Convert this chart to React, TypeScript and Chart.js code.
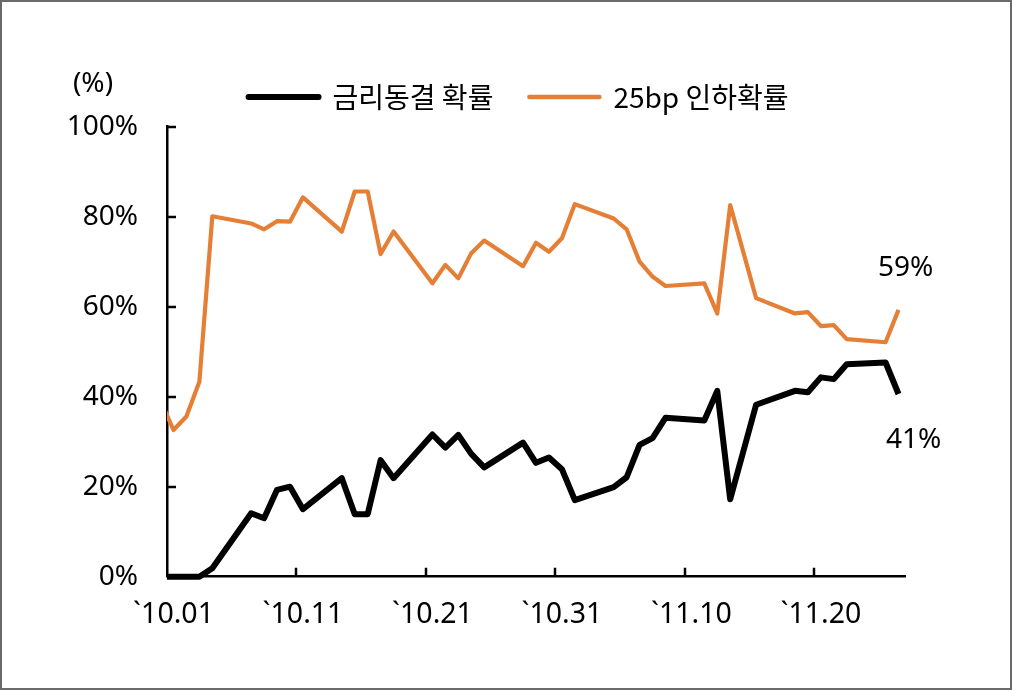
import React, { useEffect, useRef } from 'react';
import { Chart, registerables } from 'chart.js';

Chart.register(...registerables);

// ---- data ----
const DATES = [
  '2024-09-30', '2024-10-01', '2024-10-02', '2024-10-03', '2024-10-04',
  '2024-10-07', '2024-10-08', '2024-10-09', '2024-10-10', '2024-10-11',
  '2024-10-14', '2024-10-15', '2024-10-16', '2024-10-17', '2024-10-18',
  '2024-10-21', '2024-10-22', '2024-10-23', '2024-10-24', '2024-10-25',
  '2024-10-28', '2024-10-29', '2024-10-30', '2024-10-31', '2024-11-01',
  '2024-11-04', '2024-11-05', '2024-11-06', '2024-11-07', '2024-11-08',
  '2024-11-11', '2024-11-12', '2024-11-13',
  '2024-11-15',
  '2024-11-18', '2024-11-19', '2024-11-20', '2024-11-21', '2024-11-22',
  '2024-11-25', '2024-11-26',
];

// 금리동결 확률 (%)
const HOLD = [
  0, 0, 0, 0, 1.9,
  14.1, 13.0, 19.3, 20.0, 15.0,
  21.9, 13.9, 13.9, 25.9, 21.9,
  31.6, 28.7, 31.5, 27.3, 24.3,
  29.8, 25.3, 26.5, 23.9, 17.0,
  19.9, 22.1, 29.3, 30.8, 35.3,
  34.7, 41.3, 17.2,
  38.2,
  41.3, 41.0, 44.3, 43.9, 47.2,
  47.6, 40.6,
];

// 25bp 인하확률 (%)
const CUT25 = [
  39.2, 32.6, 35.6, 43.3, 80.1,
  78.5, 77.2, 79.0, 78.9, 84.3,
  76.7, 85.6, 85.6, 71.7, 76.7,
  65.2, 69.3, 66.3, 71.9, 74.7,
  69.0, 74.2, 72.2, 75.2, 82.8,
  79.6, 77.2, 70.0, 66.7, 64.6,
  65.2, 58.5, 82.6,
  61.9,
  58.5, 58.8, 55.7, 55.9, 52.8,
  52.1, 59.3,
];

const SERIES_NAMES = ['금리동결 확률', '25bp 인하확률'];
const SERIES_COLORS = ['#000000', '#E57F36'];
const AXIS_START = '2024-10-01';
const AXIS_DAYS = 57;
const X_TICK_DAYS = [0, 10, 20, 30, 40, 50];
const X_TICK_LABELS = ['`10.01', '`10.11', '`10.21', '`10.31', '`11.10', '`11.20'];
const Y_TICKS = [0, 20, 40, 60, 80, 100];
const UNIT_LABEL = '(%)';
const END_LABELS = ['41%', '59%'];

const FONT_KR = '"Noto Sans CJK KR", "Noto Sans", sans-serif';
const FONT_NUM = '"Noto Sans", "Noto Sans CJK KR", sans-serif';

const dayOffset = (d: string) =>
  (Date.parse(d + 'T00:00:00Z') - Date.parse(AXIS_START + 'T00:00:00Z')) / 86400000;

export default function App() {
  const ref = useRef<HTMLCanvasElement | null>(null);

  useEffect(() => {
    if (!ref.current) return;
    const xs = DATES.map((d) => dayOffset(d) + 0.5);
    const holdPts = xs.map((x, i) => ({ x, y: HOLD[i] }));
    const cutPts = xs.map((x, i) => ({ x, y: CUT25[i] }));

    const decor = {
      id: 'decor',
      afterDatasetsDraw(chart: any) {
        const { ctx, chartArea, scales } = chart;
        const xS = scales.x;
        const yS = scales.y;
        ctx.save();
        ctx.strokeStyle = '#000';
        ctx.lineWidth = 2.5;
        ctx.beginPath();
        Y_TICKS.forEach((v) => {
          const y = Math.round(yS.getPixelForValue(v));
          ctx.moveTo(chartArea.left, y);
          ctx.lineTo(chartArea.left + 9, y);
        });
        X_TICK_DAYS.forEach((v) => {
          if (v === 0) return;
          const x = Math.round(xS.getPixelForValue(v));
          ctx.moveTo(x, chartArea.bottom);
          ctx.lineTo(x, chartArea.bottom - 9);
        });
        ctx.stroke();

        ctx.fillStyle = '#000';
        ctx.font = `28px ${FONT_NUM}`;
        ctx.textAlign = 'center';
        ctx.textBaseline = 'middle';
        ctx.fillText(UNIT_LABEL, chartArea.left - 74, chartArea.top - 43);

        const holdMeta = chart.getDatasetMeta(0);
        const cutMeta = chart.getDatasetMeta(1);
        const hLast = holdMeta.data[holdMeta.data.length - 1];
        const cLast = cutMeta.data[cutMeta.data.length - 1];
        ctx.fillText(END_LABELS[0], hLast.x + 15, hLast.y + 46);
        ctx.fillText(END_LABELS[1], cLast.x + 7, cLast.y - 42);
        ctx.restore();
      },
    };

    const chart = new Chart(ref.current, {
      type: 'line',
      data: {
        datasets: [
          {
            label: SERIES_NAMES[0],
            data: holdPts,
            borderColor: SERIES_COLORS[0],
            backgroundColor: SERIES_COLORS[0],
            borderWidth: 6,
            pointRadius: 0,
            tension: 0,
            borderJoinStyle: 'round',
            clip: { left: 0, top: 6, right: 6, bottom: 6 },
          },
          {
            label: SERIES_NAMES[1],
            data: cutPts,
            borderColor: SERIES_COLORS[1],
            backgroundColor: SERIES_COLORS[1],
            borderWidth: 4.2,
            pointRadius: 0,
            tension: 0,
            borderJoinStyle: 'round',
            clip: { left: 0, top: 6, right: 6, bottom: 6 },
          },
        ],
      },
      options: {
        responsive: false,
        animation: false,
        events: [],
        layout: { padding: { left: 60, right: 37, top: 47, bottom: 0 } },
        plugins: {
          tooltip: { enabled: false },
          title: {
            display: true,
            text: ' ',
            weight: 500,
            font: { size: 1 },
            padding: { top: 4.5, bottom: 0 },
          } as any,
          legend: {
            display: true,
            position: 'top',
            labels: {
              usePointStyle: true,
              pointStyleWidth: 70,
              padding: 36,
              color: '#000',
              font: { family: FONT_KR, size: 28 },
              generateLabels: (c: any) =>
                c.data.datasets.map((ds: any, i: number) => ({
                  text: ds.label,
                  fillStyle: ds.borderColor,
                  strokeStyle: ds.borderColor,
                  lineWidth: i === 0 ? 6 : 4.5,
                  lineCap: 'round',
                  pointStyle: 'line',
                  hidden: false,
                  datasetIndex: i,
                  fontColor: '#000',
                })),
            },
          },
        },
        scales: {
          x: {
            type: 'linear',
            min: 0,
            max: AXIS_DAYS,
            afterBuildTicks: (s: any) => {
              s.ticks = X_TICK_DAYS.map((v) => ({ value: v }));
            },
            afterFit: (s: any) => {
              s.height = 115.3;
            },
            grid: { display: true, drawOnChartArea: false, drawTicks: false },
            border: { display: true, color: '#000', width: 2.5 },
            ticks: {
              autoSkip: false,
              maxRotation: 0,
              padding: 21,
              labelOffset: 6.5,
              color: '#000',
              font: { family: FONT_NUM, size: 28.5 },
              callback: (v: any) => {
                const idx = X_TICK_DAYS.indexOf(Number(v));
                return idx >= 0 ? X_TICK_LABELS[idx] : '';
              },
            },
          },
          y: {
            min: 0,
            max: 100,
            afterBuildTicks: (s: any) => {
              s.ticks = Y_TICKS.map((v) => ({ value: v }));
            },
            afterFit: (s: any) => {
              s.width = 107;
            },
            grid: { display: true, drawOnChartArea: false, drawTicks: false },
            border: { display: true, color: '#000', width: 2.5 },
            ticks: {
              padding: 29,
              color: '#000',
              font: { family: FONT_NUM, size: 28 },
              callback: (v: any) => `${v}%`,
            },
          },
          yR: {
            type: 'linear',
            position: 'right',
            display: true,
            afterFit: (s: any) => {
              s.width = 72;
            },
            grid: { display: false },
            border: { display: false },
            ticks: { display: false },
          },
        },
      },
      plugins: [decor],
    } as any);

    return () => chart.destroy();
  }, []);

  return (
    <div
      style={{
        position: 'absolute',
        left: 0,
        top: 0,
        width: 1014,
        height: 692,
        background: '#fff',
      }}
    >
      <canvas
        ref={ref}
        width={1014}
        height={692}
        style={{ position: 'absolute', left: 0, top: 0, width: 1014, height: 692 }}
      />
      <div
        style={{
          position: 'absolute',
          left: 0,
          top: 0,
          width: 1012,
          height: 690,
          boxSizing: 'border-box',
          border: '2px solid #6a6a6a',
          pointerEvents: 'none',
        }}
      />
    </div>
  );
}
